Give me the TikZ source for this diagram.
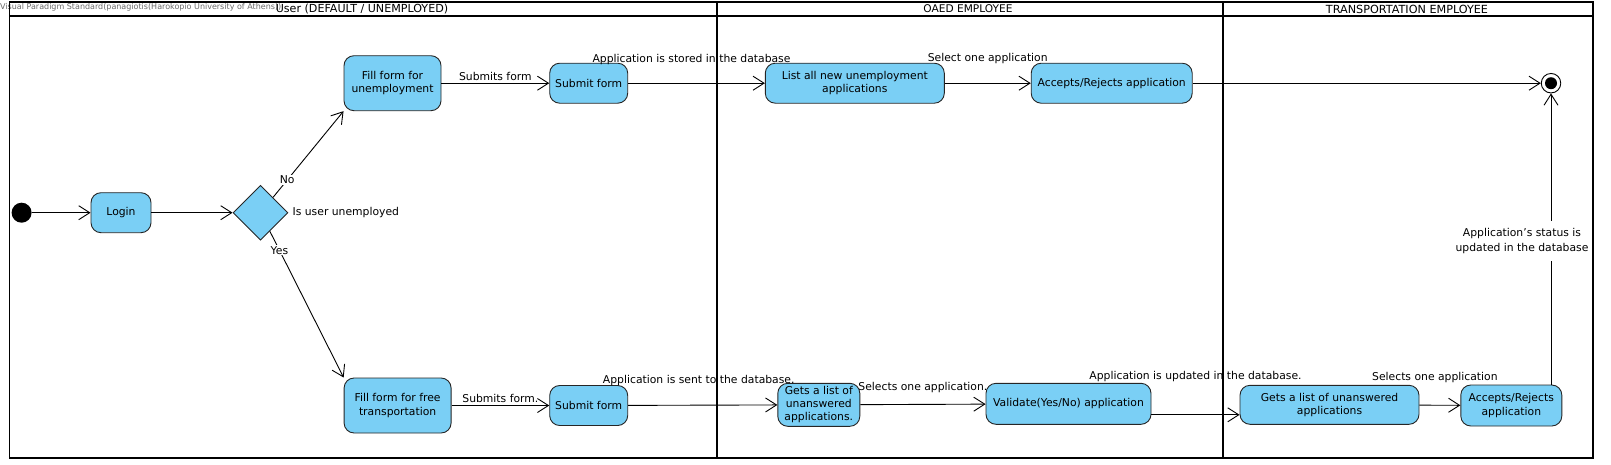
\documentclass[tikz,border=0pt]{standalone}
\usepackage{fontspec}
\setmainfont{DejaVu Sans}
\usetikzlibrary{arrows.meta}
\usetikzlibrary{shapes.geometric}
\definecolor{actblue}{RGB}{122,207,245}
\definecolor{vpgray}{RGB}{105,105,105}

\begin{document}
\begin{tikzpicture}[x=1pt, y=-1pt,
    every node/.append style={font=\fontsize{10.8}{13.5}\selectfont},
    act/.style={draw=black!85, fill=actblue, rounded corners=10pt, align=center, inner sep=1pt, line width=0.9pt},
    flow/.style={line width=0.9pt, -{Straight Barb[length=11pt, width=14pt, line width=0.9pt]}},
    lbl/.style={inner sep=1pt},
    lane/.style={line width=2.5pt}]
  \useasboundingbox (0,0) rectangle (1611,464);
  \node[font=\fontsize{8}{9}\selectfont, text=vpgray, anchor=west, inner sep=0pt] (vp) at (0,7.5) {Visual Paradigm Standard(panagiotis(Harokopio University of Athens))};
  \node[inner sep=0pt, font=\fontsize{11.1}{12}\selectfont] (hUser) at (362,9) {User (DEFAULT / UNEMPLOYED)};
  \node[inner sep=0pt, font=\fontsize{10.6}{12}\selectfont] (hOaed) at (968,9) {OAED EMPLOYEE};
  \node[inner sep=0pt, font=\fontsize{11.2}{12}\selectfont] (hTrans) at (1407,9) {TRANSPORTATION EMPLOYEE};

  \node[circle, fill=black, minimum size=20pt, inner sep=0pt] (start) at (21.6,212.7) {};
  \node[act, minimum width=60pt, minimum height=40pt] (login) at (121,212.7) {Login};
  \node[diamond, draw=black!85, fill=actblue, line width=0.9pt, minimum width=55pt, minimum height=55pt, inner sep=0pt,
        label={[lbl, label distance=3pt]right:Is user unemployed}] (dec) at (260.5,212.7) {};
  \node[act, minimum width=97pt, minimum height=55pt] (fillU) at (392.5,83.2) {Fill form for\\unemployment};
  \node[act, minimum width=78pt, minimum height=40pt] (subU) at (588.7,83.2) {Submit form};
  \node[act, minimum width=179pt, minimum height=40pt] (listU) at (854.8,83.2) {List all new unemployment\\applications};
  \node[act, minimum width=161pt, minimum height=40pt] (accU) at (1111.7,83.2) {Accepts/Rejects application};
  \node[circle, draw=black, line width=0.9pt, fill=white, minimum size=19.5pt, inner sep=0pt] (end) at (1551,83.2) {};
  \node[circle, fill=black, minimum size=12pt, inner sep=0pt] at (end) {};

  \node[act, minimum width=107pt, minimum height=55pt] (fillT) at (397.6,405.5) {Fill form for free\\transportation};
  \node[act, minimum width=78pt, minimum height=40pt] (subT) at (588.7,405.5) {Submit form};
  \node[act, minimum width=82pt, minimum height=43pt, font=\fontsize{10.8}{12.8}\selectfont] (getsO) at (818.8,404.8) {Gets a list of\\unanswered\\applications.};
  \node[act, minimum width=165pt, minimum height=41pt] (valid) at (1068.5,403.8) {Validate(Yes/No) application};
  \node[act, minimum width=179pt, minimum height=39pt] (getsT) at (1329.5,404.8) {Gets a list of unanswered\\applications};
  \node[act, minimum width=101pt, minimum height=41pt] (accT) at (1511.3,405.5) {Accepts/Rejects\\application};

  \draw[flow] (start) -- (login);
  \draw[flow] (login) -- (dec);
  \draw[flow] (dec) -- node[lbl, pos=0.2, fill=white] {No} (fillU.south west);
  \draw[flow] (dec) -- node[lbl, pos=0.13, fill=white] {Yes} (fillT.north west);
  \draw[flow] (fillU) -- node[lbl, above, yshift=1pt] {Submits form} (subU);
  \draw[flow] (subU) -- node[lbl, above, xshift=-5pt, yshift=17pt] {Application is stored in the database} (listU);
  \draw[flow] (listU) -- node[lbl, above, yshift=18pt] {Select one application} (accU);
  \draw[flow] (accU) -- (end);
  \draw[flow] (fillT) -- node[lbl, above, yshift=1pt] {Submits form.} (subT);
  \draw[flow] (subT) -- node[lbl, above, xshift=-4pt, yshift=18pt] {Application is sent to the database.} (getsO);
  \draw[flow] (getsO) -- node[lbl, above, yshift=10pt] {Selects one application.} (valid);
  \draw[flow] ([yshift=-11pt]valid.east) -- node[lbl, above, yshift=32pt] {Application is updated in the database.} ([yshift=-10pt]getsT.west);
  \draw[flow] (getsT) -- node[lbl, above, xshift=-5pt, yshift=21pt] {Selects one application} (accT);
  \draw[flow] (accT.north -| end) -- node[lbl, fill=white, align=center, xshift=-29pt, yshift=-2pt, inner xsep=3pt, inner ysep=8pt,
        font=\fontsize{10.8}{14.5}\selectfont] {Application's status is\\updated in the database} (end);

  \draw[line width=1.6pt] (9.5,2) rectangle (1593,458);
  \draw[line width=2pt] (9.5,16) -- (1593,16);
  \draw[lane] (717,2) -- (717,458);
  \draw[lane] (1223,2) -- (1223,458);
\end{tikzpicture}
\end{document}
